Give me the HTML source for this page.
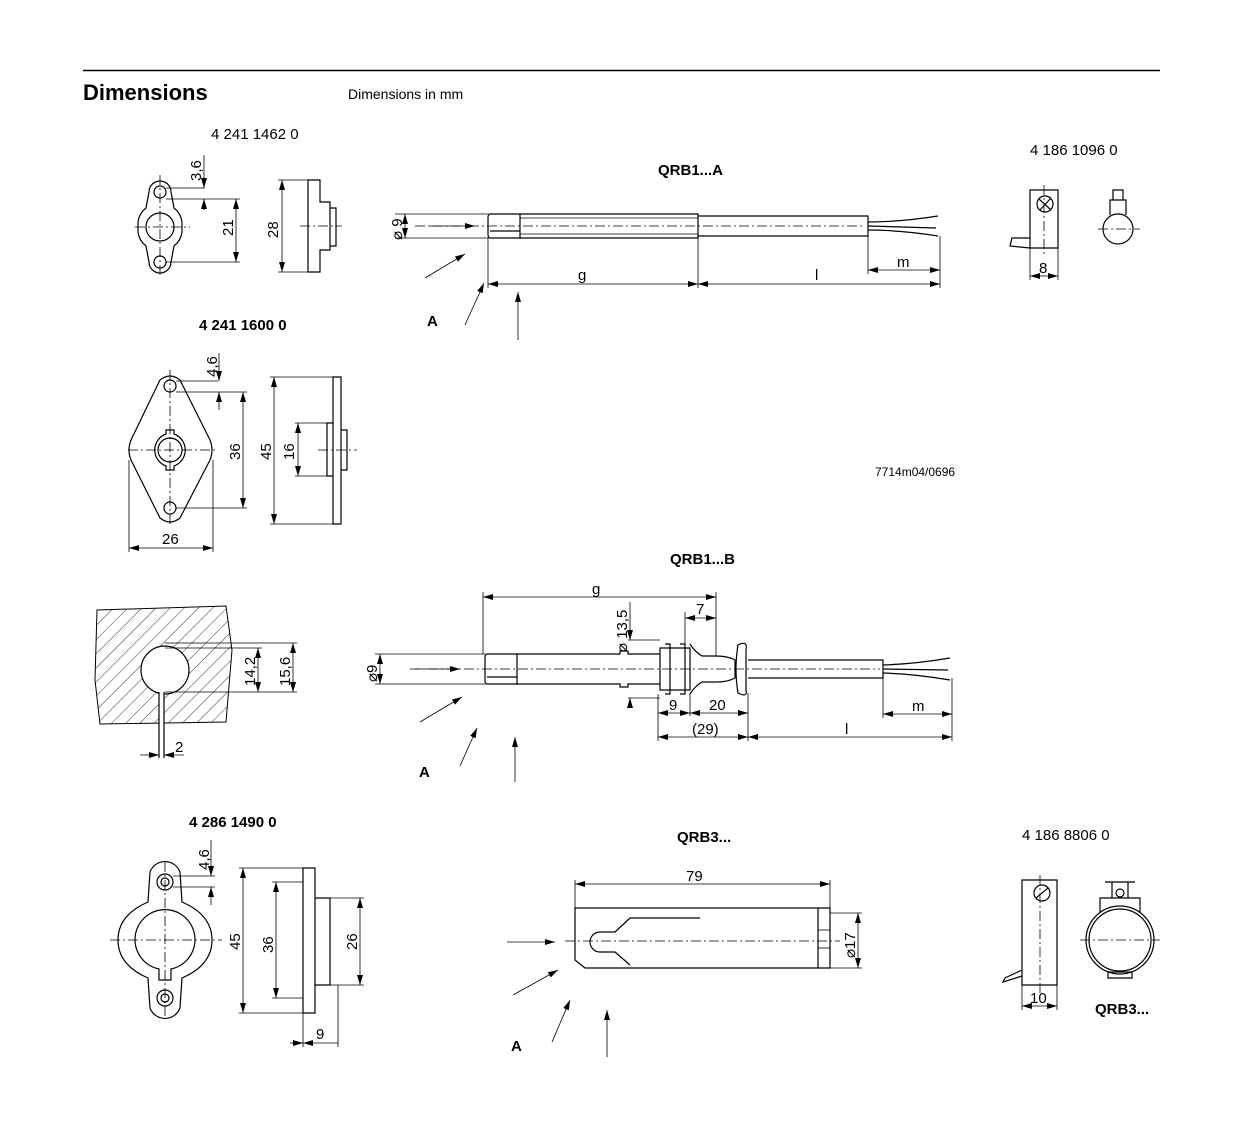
<!DOCTYPE html>
<html><head><meta charset="utf-8"><style>
body{margin:0;background:#fff;}
svg{display:block;font-family:"Liberation Sans",sans-serif;}
.l{stroke:#000;stroke-width:1.2;fill:none}
.t{stroke:#000;stroke-width:0.8;fill:none}
.c{stroke:#000;stroke-width:0.8;fill:none;stroke-dasharray:10,3,2,3}
text{font-size:15px;fill:#000}
.b{font-weight:bold}
</style></head><body>
<svg width="1237" height="1130" viewBox="0 0 1237 1130">
<defs>
<marker id="a" viewBox="0 0 10 6" refX="10" refY="3" markerWidth="10" markerHeight="6" orient="auto-start-reverse" markerUnits="userSpaceOnUse"><path d="M0,0L10,3L0,6z" fill="#000"/></marker>
<pattern id="h" width="10" height="10" patternUnits="userSpaceOnUse" patternTransform="rotate(45)"><line x1="0" y1="0" x2="0" y2="10" stroke="#000" stroke-width="0.8"/></pattern>
</defs>
<line x1="83" y1="70.5" x2="1160" y2="70.5" stroke="#000" stroke-width="1.5"/>
<text x="83" y="100" class="b" style="font-size:22px">Dimensions</text>
<text x="348" y="99" style="font-size:14px">Dimensions in mm</text>

<!-- Part 1 -->
<text x="211" y="139">4 241 1462 0</text>
<path class="l" d="M149,192 A11,11 0 0 1 171,192 L174,208 A21,21 0 0 1 182,222 V232 A21,21 0 0 1 174,246 L171,262 A11,11 0 0 1 149,262 L146,246 A21,21 0 0 1 138,232 V222 A21,21 0 0 1 146,208 Z"/>
<circle class="l" cx="160" cy="192" r="6"/><circle class="l" cx="160" cy="262" r="6"/>
<circle class="l" cx="160" cy="227" r="14"/>
<line class="c" x1="135" y1="227" x2="190" y2="227"/><line class="c" x1="160" y1="175" x2="160" y2="275"/>
<line class="t" x1="166" y1="188" x2="205" y2="188"/><line class="t" x1="166" y1="199" x2="240" y2="199"/><line class="t" x1="166" y1="262" x2="240" y2="262"/>
<line class="t" x1="204" y1="155" x2="204" y2="188" marker-end="url(#a)"/><line class="t" x1="204" y1="210" x2="204" y2="199" marker-end="url(#a)"/>
<text transform="translate(201,181) rotate(-90)">3,6</text>
<line class="t" x1="236" y1="199" x2="236" y2="262" marker-start="url(#a)" marker-end="url(#a)"/>
<text transform="translate(233,236) rotate(-90)">21</text>
<path class="l" d="M308,180 H320 V202 H330 V250 H320 V272 H308 Z M330,208 H336 V246 H330"/>
<line class="t" x1="278" y1="180" x2="308" y2="180"/><line class="t" x1="278" y1="272" x2="308" y2="272"/>
<line class="t" x1="282" y1="180" x2="282" y2="272" marker-start="url(#a)" marker-end="url(#a)"/>
<text transform="translate(278,238) rotate(-90)">28</text>
<line class="c" x1="300" y1="226" x2="342" y2="226"/>

<!-- Part 2 -->
<text x="199" y="330" class="b">4 241 1600 0</text>
<path class="l" d="M160,380 Q170,372 180,380 L210,440 Q214,450 210,460 L180,518 Q170,526 160,518 L131,460 Q127,450 131,440 Z"/>
<circle class="l" cx="170" cy="386" r="6"/><circle class="l" cx="170" cy="508" r="6"/>
<path class="l" d="M166,434 V430 H174 V434 A17,17 0 0 1 174,466 V470 H166 V466 A17,17 0 0 1 166,434 Z"/>
<circle class="l" cx="170" cy="450" r="12"/>
<line class="c" x1="128" y1="450" x2="215" y2="450"/><line class="c" x1="170" y1="370" x2="170" y2="525"/>
<line class="t" x1="176" y1="381" x2="218" y2="381"/><line class="t" x1="176" y1="392" x2="247" y2="392"/><line class="t" x1="176" y1="508" x2="247" y2="508"/>
<line class="t" x1="219" y1="353" x2="219" y2="381" marker-end="url(#a)"/><line class="t" x1="219" y1="410" x2="219" y2="392" marker-end="url(#a)"/>
<text transform="translate(217,377) rotate(-90)">4,6</text>
<line class="t" x1="243" y1="392" x2="243" y2="508" marker-start="url(#a)" marker-end="url(#a)"/>
<text transform="translate(240,460) rotate(-90)">36</text>
<line class="t" x1="129" y1="460" x2="129" y2="552"/><line class="t" x1="213" y1="460" x2="213" y2="552"/>
<line class="t" x1="129" y1="548" x2="213" y2="548" marker-start="url(#a)" marker-end="url(#a)"/>
<text x="162" y="544">26</text>
<path class="l" d="M333,377 H341 V524 H333 Z M327,423 H333 V476 H327 Z M341,430 H347 V470 H341"/>
<line class="t" x1="270" y1="377" x2="333" y2="377"/><line class="t" x1="270" y1="524" x2="333" y2="524"/>
<line class="t" x1="274" y1="377" x2="274" y2="524" marker-start="url(#a)" marker-end="url(#a)"/>
<text transform="translate(271,460) rotate(-90)">45</text>
<line class="t" x1="295" y1="423" x2="327" y2="423"/><line class="t" x1="295" y1="476" x2="327" y2="476"/>
<line class="t" x1="298" y1="423" x2="298" y2="476" marker-start="url(#a)" marker-end="url(#a)"/>
<text transform="translate(294,460) rotate(-90)">16</text>
<line class="c" x1="318" y1="450" x2="357" y2="450"/>

<!-- Part 3 hatched -->
<path d="M97,610 L226,606 L232,650 L226,722 L100,724 L95,680 Z" fill="url(#h)" stroke="#000" stroke-width="1"/>
<circle cx="165" cy="670" r="24" fill="#fff" stroke="#000" stroke-width="1.2"/>
<rect x="159" y="692" width="5" height="40" fill="#fff"/>
<line class="l" x1="159" y1="692" x2="159" y2="758"/><line class="l" x1="164" y1="692" x2="164" y2="758"/>
<line class="t" x1="165" y1="648" x2="262" y2="648"/><line class="t" x1="165" y1="692" x2="297" y2="692"/><line class="t" x1="165" y1="643" x2="297" y2="643"/>
<line class="t" x1="258" y1="648" x2="258" y2="692" marker-start="url(#a)" marker-end="url(#a)"/>
<text transform="translate(255,686) rotate(-90)">14,2</text>
<line class="t" x1="293" y1="643" x2="293" y2="692" marker-start="url(#a)" marker-end="url(#a)"/>
<text transform="translate(290,686) rotate(-90)">15,6</text>
<line class="t" x1="140" y1="755" x2="159" y2="755" marker-end="url(#a)"/><line class="t" x1="184" y1="755" x2="164" y2="755" marker-end="url(#a)"/>
<text x="175" y="752">2</text>

<!-- Part 4 -->
<text x="189" y="827" class="b">4 286 1490 0</text>
<path class="l" d="M150,872 A16,16 0 0 1 180,872 L182,902 Q212,915 212,940 Q212,965 182,978 L180,1008 A16,16 0 0 1 150,1008 L148,978 Q118,965 118,940 Q118,915 148,902 Z"/>
<circle class="l" cx="165" cy="882" r="8"/><circle class="l" cx="165" cy="882" r="4"/>
<circle class="l" cx="165" cy="998" r="8"/><circle class="l" cx="165" cy="998" r="4"/>
<path class="l" d="M159,969 A30,30 0 1 1 171,969 L171,980 H159 Z"/>
<line class="c" x1="110" y1="940" x2="222" y2="940"/><line class="c" x1="165" y1="862" x2="165" y2="1018"/>
<line class="t" x1="173" y1="876" x2="215" y2="876"/><line class="t" x1="173" y1="887" x2="215" y2="887"/>
<line class="t" x1="211" y1="840" x2="211" y2="876" marker-end="url(#a)"/><line class="t" x1="211" y1="905" x2="211" y2="887" marker-end="url(#a)"/>
<text transform="translate(209,870) rotate(-90)">4,6</text>
<path class="l" d="M303,868 H315 V1013 H303 Z M315,898 H330 V985 H315"/>
<line class="t" x1="239" y1="868" x2="303" y2="868"/><line class="t" x1="239" y1="1013" x2="303" y2="1013"/>
<line class="t" x1="243" y1="868" x2="243" y2="1013" marker-start="url(#a)" marker-end="url(#a)"/>
<text transform="translate(240,950) rotate(-90)">45</text>
<line class="t" x1="272" y1="882" x2="303" y2="882"/><line class="t" x1="272" y1="998" x2="303" y2="998"/>
<line class="t" x1="276" y1="882" x2="276" y2="998" marker-start="url(#a)" marker-end="url(#a)"/>
<text transform="translate(273,953) rotate(-90)">36</text>
<line class="t" x1="330" y1="898" x2="364" y2="898"/><line class="t" x1="330" y1="985" x2="364" y2="985"/>
<line class="t" x1="360" y1="898" x2="360" y2="985" marker-start="url(#a)" marker-end="url(#a)"/>
<text transform="translate(357,950) rotate(-90)">26</text>
<line class="t" x1="303" y1="1013" x2="303" y2="1047"/><line class="t" x1="338" y1="985" x2="338" y2="1047"/>
<line class="t" x1="290" y1="1043" x2="303" y2="1043" marker-end="url(#a)"/><line class="t" x1="303" y1="1043" x2="338" y2="1043" marker-start="url(#a)"/>
<text x="316" y="1039">9</text>

<!-- QRB1...A -->
<text x="658" y="175" class="b">QRB1...A</text>
<path class="l" d="M490,214 H520 V238 H490 Q488,238 488,234 V218 Q488,214 490,214 Z"/>
<line class="l" x1="490" y1="231" x2="520" y2="231"/>
<path class="l" d="M520,214 H698 V238 H520"/>
<line class="t" x1="520" y1="218" x2="698" y2="218"/><line class="t" x1="520" y1="234" x2="698" y2="234"/>
<path class="l" d="M698,216 H868 V236 H698"/>
<path class="l" d="M868,222 Q900,222 938,216 M868,230 Q900,230 938,236 M868,226 L936,228"/>
<line class="c" x1="415" y1="226" x2="865" y2="226"/>
<line class="t" x1="395" y1="214" x2="488" y2="214"/><line class="t" x1="395" y1="238" x2="488" y2="238"/>
<line class="t" x1="405" y1="214" x2="405" y2="238" marker-start="url(#a)" marker-end="url(#a)"/>
<text transform="translate(402,240) rotate(-90)">⌀ 9</text>
<line class="t" x1="430" y1="226" x2="475" y2="226" marker-end="url(#a)"/>
<line class="t" x1="425" y1="278" x2="465" y2="254" marker-end="url(#a)"/>
<line class="t" x1="465" y1="325" x2="484" y2="283" marker-end="url(#a)"/>
<line class="t" x1="518" y1="340" x2="518" y2="292" marker-end="url(#a)"/>
<text x="427" y="326" class="b">A</text>
<line class="t" x1="488" y1="238" x2="488" y2="288"/><line class="t" x1="698" y1="238" x2="698" y2="288"/><line class="t" x1="940" y1="236" x2="940" y2="288"/><line class="t" x1="868" y1="236" x2="868" y2="274"/>
<line class="t" x1="488" y1="284" x2="698" y2="284" marker-start="url(#a)" marker-end="url(#a)"/>
<line class="t" x1="698" y1="284" x2="940" y2="284" marker-start="url(#a)" marker-end="url(#a)"/>
<line class="t" x1="868" y1="270" x2="940" y2="270" marker-start="url(#a)" marker-end="url(#a)"/>
<text x="578" y="280">g</text><text x="815" y="280">l</text><text x="897" y="267">m</text>
<text x="875" y="476" style="font-size:12px">7714m04/0696</text>

<!-- clip 4 186 1096 0 -->
<text x="1030" y="155">4 186 1096 0</text>
<path class="l" d="M1030,190 H1058 V248 H1030 Z M1030,238 H1012 L1010,246 L1030,248"/>
<circle class="l" cx="1045" cy="204" r="8"/><line class="l" x1="1039" y1="199" x2="1051" y2="210"/><line class="l" x1="1040" y1="210" x2="1051" y2="198"/>
<line class="c" x1="1044" y1="185" x2="1044" y2="255"/>
<line class="t" x1="1030" y1="248" x2="1030" y2="280"/><line class="t" x1="1058" y1="248" x2="1058" y2="280"/>
<line class="t" x1="1030" y1="276" x2="1058" y2="276" marker-start="url(#a)" marker-end="url(#a)"/>
<text x="1039" y="273">8</text>
<circle class="l" cx="1118" cy="229" r="15"/>
<path class="l" d="M1110,215 V200 H1126 V215 M1113,200 V190 H1123 V200"/>
<line class="c" x1="1098" y1="229" x2="1140" y2="229"/>

<!-- QRB1...B -->
<text x="670" y="564" class="b">QRB1...B</text>
<path class="l" d="M487,654 H517 V684 H487 Q485,684 485,680 V658 Q485,654 487,654 Z"/>
<line class="l" x1="487" y1="677" x2="517" y2="677"/>
<path class="l" d="M517,654 H620 V651 H628 V654 H660 M517,684 H620 V687 H628 V684 H660"/>
<path class="l" d="M660,648 H690 V690 H660 Z M665,644 H670 V694 H665 M680,644 H685 V694 H680"/>
<path class="l" d="M690,644 Q695,652 702,656 H716 Q728,656 735,660 V678 Q728,682 716,682 H702 Q695,686 690,694"/>
<path class="l" d="M738,645 Q748,640 746,650 V690 Q748,698 738,693 Q734,669 738,645 Z"/>
<path class="l" d="M748,660 H883 V678 H748"/>
<path class="l" d="M883,665 Q915,664 950,658 M883,673 Q915,674 950,680 M883,669 L948,670"/>
<line class="c" x1="410" y1="669" x2="880" y2="669"/>
<line class="t" x1="375" y1="654" x2="485" y2="654"/><line class="t" x1="375" y1="684" x2="485" y2="684"/>
<line class="t" x1="380" y1="654" x2="380" y2="684" marker-start="url(#a)" marker-end="url(#a)"/>
<text transform="translate(377,682) rotate(-90)">⌀9</text>
<line class="t" x1="415" y1="669" x2="460" y2="669" marker-end="url(#a)"/>
<line class="t" x1="420" y1="722" x2="462" y2="697" marker-end="url(#a)"/>
<line class="t" x1="460" y1="766" x2="477" y2="728" marker-end="url(#a)"/>
<line class="t" x1="515" y1="782" x2="515" y2="737" marker-end="url(#a)"/>
<text x="419" y="777" class="b">A</text>
<line class="t" x1="483" y1="592" x2="483" y2="654"/><line class="t" x1="716" y1="592" x2="716" y2="656"/>
<line class="t" x1="483" y1="597" x2="716" y2="597" marker-start="url(#a)" marker-end="url(#a)"/>
<text x="592" y="594">g</text>
<line class="t" x1="685" y1="612" x2="685" y2="644"/>
<line class="t" x1="685" y1="618" x2="716" y2="618" marker-start="url(#a)" marker-end="url(#a)"/>
<text x="696" y="614">7</text>
<line class="t" x1="628" y1="640" x2="660" y2="640"/><line class="t" x1="628" y1="698" x2="660" y2="698"/>
<line class="t" x1="630" y1="602" x2="630" y2="640" marker-end="url(#a)"/><line class="t" x1="630" y1="705" x2="630" y2="698" marker-end="url(#a)"/>
<text transform="translate(627,652) rotate(-90)">⌀ 13,5</text>
<line class="t" x1="658" y1="694" x2="658" y2="741"/><line class="t" x1="690" y1="694" x2="690" y2="716"/><line class="t" x1="748" y1="693" x2="748" y2="741"/><line class="t" x1="952" y1="678" x2="952" y2="741"/><line class="t" x1="883" y1="678" x2="883" y2="718"/>
<line class="t" x1="658" y1="713" x2="690" y2="713" marker-start="url(#a)" marker-end="url(#a)"/>
<line class="t" x1="690" y1="713" x2="748" y2="713" marker-start="url(#a)" marker-end="url(#a)"/>
<line class="t" x1="658" y1="737" x2="748" y2="737" marker-start="url(#a)" marker-end="url(#a)"/>
<line class="t" x1="748" y1="737" x2="952" y2="737" marker-start="url(#a)" marker-end="url(#a)"/>
<line class="t" x1="883" y1="714" x2="952" y2="714" marker-start="url(#a)" marker-end="url(#a)"/>
<text x="669" y="710">9</text><text x="709" y="710">20</text><text x="692" y="734">(29)</text><text x="845" y="734">l</text><text x="912" y="711">m</text>

<!-- QRB3 -->
<text x="677" y="842" class="b">QRB3...</text>
<path class="l" d="M575,908 H830 V968 H585 L575,960 Z"/>
<line class="l" x1="818" y1="908" x2="818" y2="968"/><line class="t" x1="818" y1="930" x2="830" y2="930"/><line class="t" x1="818" y1="948" x2="830" y2="948"/>
<path class="l" d="M630,918 L700,918 M630,918 L615,932 H600 A10,10 0 0 0 600,952 H615 L630,965"/>
<line class="c" x1="565" y1="941" x2="840" y2="941"/>
<line class="t" x1="575" y1="880" x2="575" y2="908"/><line class="t" x1="830" y1="880" x2="830" y2="908"/>
<line class="t" x1="575" y1="884" x2="830" y2="884" marker-start="url(#a)" marker-end="url(#a)"/>
<text x="686" y="881">79</text>
<line class="t" x1="830" y1="913" x2="862" y2="913"/><line class="t" x1="830" y1="968" x2="862" y2="968"/>
<line class="t" x1="858" y1="913" x2="858" y2="968" marker-start="url(#a)" marker-end="url(#a)"/>
<text transform="translate(855,958) rotate(-90)">⌀17</text>
<line class="t" x1="507" y1="942" x2="555" y2="942" marker-end="url(#a)"/>
<line class="t" x1="513" y1="995" x2="558" y2="970" marker-end="url(#a)"/>
<line class="t" x1="552" y1="1042" x2="570" y2="1000" marker-end="url(#a)"/>
<line class="t" x1="607" y1="1057" x2="607" y2="1010" marker-end="url(#a)"/>
<text x="511" y="1051" class="b">A</text>

<!-- clip 4 186 8806 0 -->
<text x="1022" y="840">4 186 8806 0</text>
<path class="l" d="M1022,880 H1057 V985 H1022 Z M1022,970 L1005,978 L1003,982 L1022,976"/>
<circle class="l" cx="1042" cy="893" r="8"/><line class="l" x1="1036" y1="898" x2="1048" y2="888"/>
<line class="c" x1="1040" y1="875" x2="1040" y2="995"/>
<line class="t" x1="1022" y1="985" x2="1022" y2="1010"/><line class="t" x1="1057" y1="985" x2="1057" y2="1010"/>
<line class="t" x1="1022" y1="1006" x2="1057" y2="1006" marker-start="url(#a)" marker-end="url(#a)"/>
<text x="1030" y="1003">10</text>
<circle class="l" cx="1120" cy="940" r="34"/><circle class="l" cx="1120" cy="940" r="31"/>
<path class="l" d="M1100,912 V898 H1140 V912 M1112,898 V882 M1128,898 V882 M1105,882 H1135"/>
<circle class="l" cx="1120" cy="893" r="4"/>
<path class="l" d="M1108,972 H1132 V978 H1108 Z"/>
<line class="c" x1="1080" y1="940" x2="1160" y2="940"/>
<text x="1095" y="1014" class="b">QRB3...</text>
</svg>
</body></html>
